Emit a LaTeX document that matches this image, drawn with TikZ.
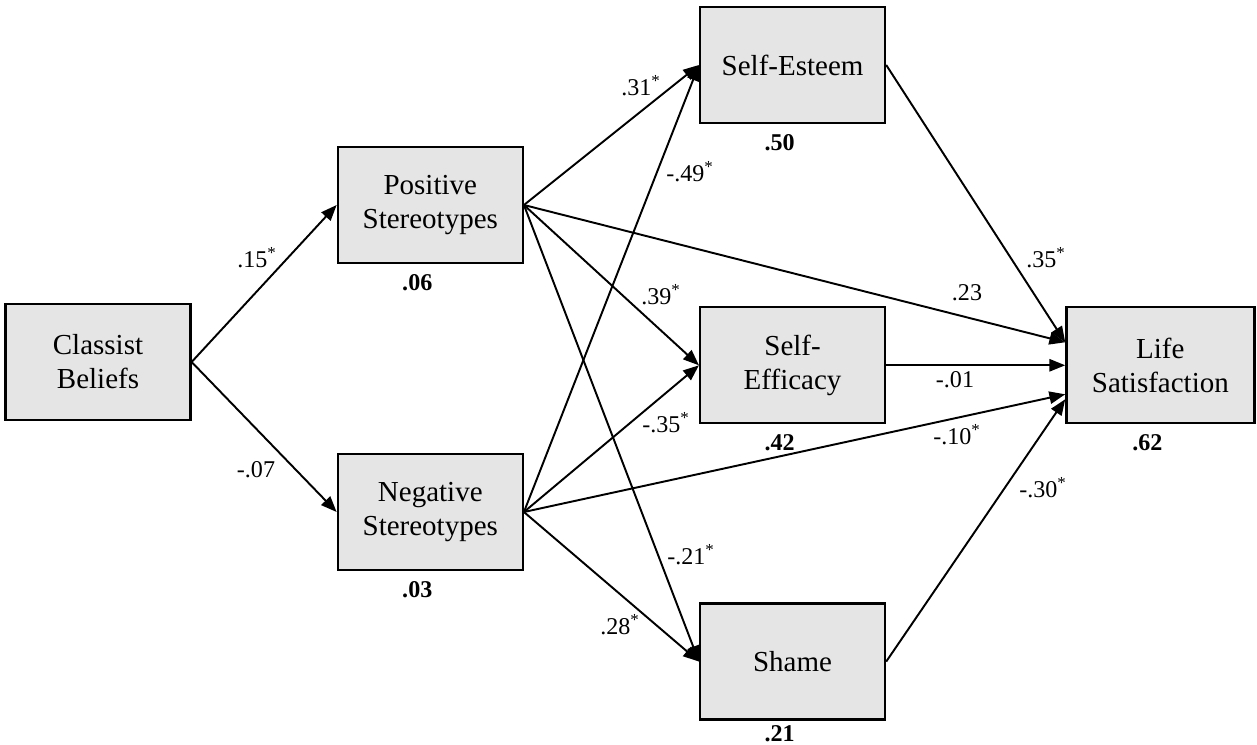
\documentclass[tikz,border=0pt]{standalone}
\usepackage{fontspec}
\setmainfont{Liberation Serif}
\usepackage{tikz}
\usetikzlibrary{bayesnet,positioning,arrows.meta}

\begin{document}
\begin{tikzpicture}[var/.style={rectangle, draw, line width=1.3pt, fill=black!10, minimum width=3.7cm, minimum height=2.32cm, align=center, font=\fontsize{16.5}{19.4}\selectfont},
	r2/.style={inner sep=0pt, font=\fontsize{13.7}{16}\selectfont\bfseries},
	coef/.style={inner sep=0pt, font=\fontsize{13.7}{16}\selectfont},
	arr/.style={-{Triangle[length=9pt,width=7pt]}, line width=1.1pt}]
			
			\useasboundingbox (0,0) rectangle (25.14,14.88);
			
			\node[var] (cb) at (1.96,7.64) {Classist\\Beliefs};
			
			\node[var, right=2.9cm of cb, yshift=3.14cm] (pos) {Positive\\Stereotypes};
			\node[var, right=2.9cm of cb, yshift=-3.0cm] (neg) {Negative\\Stereotypes};
			
			\node[var, right=3.5cm of pos, yshift=2.8cm] (se) {Self-Esteem};
			\node[var, below=3.64cm of se] (ef) {Self-\\Efficacy};
			\node[var, below=3.56cm of ef] (sh) {Shame};
			
			\node[var, minimum width=3.76cm, right=3.58cm of ef] (ls) {Life\\Satisfaction};
			
			\coordinate (lsA) at ([yshift=0.46cm]ls.west);
			\coordinate (lsB) at ([yshift=-0.58cm]ls.west);
			\coordinate (lsC) at ([yshift=-0.68cm]ls.west);
			
			% explained variance
			\node[r2, below=0.2cm of pos.south, xshift=-0.26cm] (r2pos) {.06};
			\node[r2, below=0.2cm of neg.south, xshift=-0.26cm] (r2neg) {.03};
			\node[r2, below=0.2cm of se.south, xshift=-0.26cm] (r2se) {.50};
			\node[r2, below=0.2cm of ef.south, xshift=-0.26cm] (r2ef) {.42};
			\node[r2, below=0.08cm of sh.south, xshift=-0.26cm] (r2sh) {.21};
			\node[r2, below=0.2cm of ls.south, xshift=-0.26cm] (r2ls) {.62};
			
			
			\edge[arr] {cb.east} {pos.west,neg.west};
			\edge[arr] {pos.east} {se.west,ef.west,sh.west,lsA};
			\edge[arr] {neg.east} {se.west,ef.west,sh.west,lsB};
			\edge[arr] {se.east} {lsA};
			\edge[arr] {ef.east} {ls.west};
			\edge[arr] {sh.east} {lsC};
			
			% path coefficients
			\node[coef] (c1) at (5.14,9.72) {.15\textsuperscript{*}};
			\node[coef] (c2) at (5.12,5.48) {-.07};
			\node[coef] (c3) at (12.82,13.16) {.31\textsuperscript{*}};
			\node[coef] (c4) at (13.80,11.44) {-.49\textsuperscript{*}};
			\node[coef] (c5) at (13.22,8.98) {.39\textsuperscript{*}};
			\node[coef] (c6) at (13.32,6.42) {-.35\textsuperscript{*}};
			\node[coef] (c7) at (13.82,3.78) {-.21\textsuperscript{*}};
			\node[coef] (c8) at (12.40,2.38) {.28\textsuperscript{*}};
			\node[coef] (c9) at (20.92,9.72) {.35\textsuperscript{*}};
			\node[coef] (c10) at (19.34,9.02) {.23};
			\node[coef] (c11) at (19.10,7.28) {-.01};
			\node[coef] (c12) at (19.14,6.18) {-.10\textsuperscript{*}};
			\node[coef] (c13) at (20.86,5.12) {-.30\textsuperscript{*}};
			
			\end{tikzpicture}
\end{document}
